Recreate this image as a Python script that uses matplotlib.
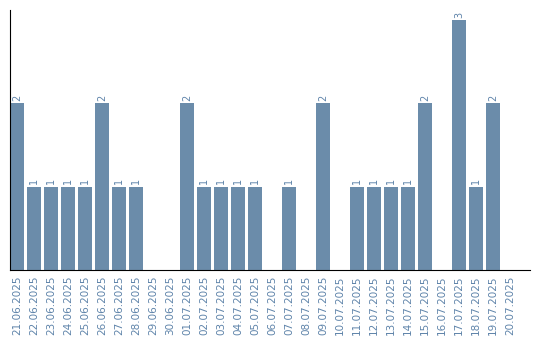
import matplotlib
matplotlib.use("Agg")
import matplotlib.pyplot as plt

dates = ["21.06.2025", "22.06.2025", "23.06.2025", "24.06.2025", "25.06.2025",
         "26.06.2025", "27.06.2025", "28.06.2025", "29.06.2025", "30.06.2025",
         "01.07.2025", "02.07.2025", "03.07.2025", "04.07.2025", "05.07.2025",
         "06.07.2025", "07.07.2025", "08.07.2025", "09.07.2025", "10.07.2025",
         "11.07.2025", "12.07.2025", "13.07.2025", "14.07.2025", "15.07.2025",
         "16.07.2025", "17.07.2025", "18.07.2025", "19.07.2025", "20.07.2025"]
counts = [2, 1, 1, 1, 1, 2, 1, 1, 0, 0,
          2, 1, 1, 1, 1, 0, 1, 0, 2, 0,
          1, 1, 1, 1, 2, 0, 3, 1, 2, 0]

bar_color = "#6b8caa"
text_color = "#5f84aa"

fig = plt.figure(figsize=(5.4, 3.4), dpi=100)
ax = fig.add_axes([10 / 540, 70 / 340, 520 / 540, 260 / 340])

x = list(range(len(dates)))
ax.bar(x, counts, width=14 / 17, color=bar_color)

for xi, c in zip(x, counts):
    if c > 0:
        ax.text(xi, c + 0.03, str(c), rotation=90, ha="center", va="bottom",
                fontsize=7, color=text_color)

ax.set_xlim(-7 / 17, 30.18)
ax.set_ylim(0, 3.12)
ax.set_xticks(x)
ax.set_xticklabels(dates, rotation=90, fontsize=7.5, color=text_color)
ax.set_yticks([])
ax.tick_params(axis="x", length=0, pad=4)

for side in ["top", "right"]:
    ax.spines[side].set_visible(False)
ax.spines["left"].set_color("black")
ax.spines["bottom"].set_color("black")

fig.savefig("out.png", dpi=100)
